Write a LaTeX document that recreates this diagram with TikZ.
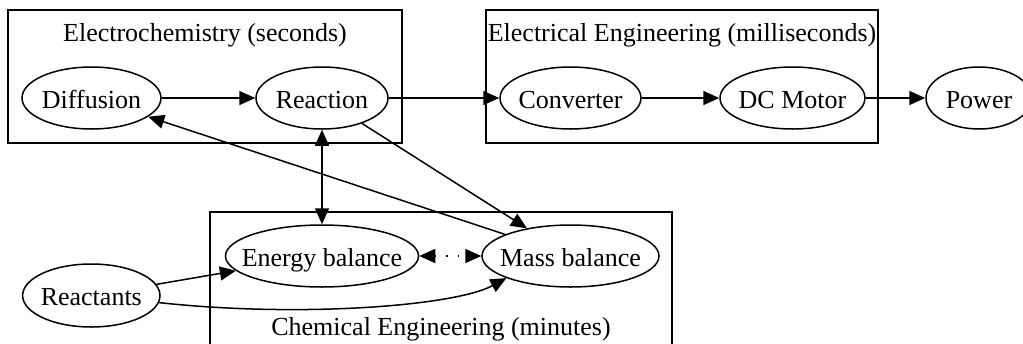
\documentclass[tikz,border=0pt]{standalone}
\usepackage{fontspec}
\setmainfont{Liberation Serif}
\usetikzlibrary{
  shapes.geometric,
  arrows.meta
}
\tikzset{
  proc/.style={draw,ellipse,line width=0.75pt,inner ysep=0pt,inner xsep=-30pt,
    minimum height=31pt,text height=10pt,text depth=0pt},
  link/.style={line width=0.75pt,-{Triangle[length=8pt,width=7pt]}},
  two way/.style={line width=0.75pt,{Triangle[length=8pt,width=7pt]}-{Triangle[length=8pt,width=7pt]}},
  cluster/.style={draw,line width=0.75pt},
  cluster label/.style={anchor=base,inner sep=0pt},
}

\begin{document}
\begin{tikzpicture}[
  x=0.5pt,y=0.5pt,
  font=\fontsize{13pt}{15pt}\selectfont,
]
\useasboundingbox (0,0) rectangle (1023,-343);

% clusters
\draw[cluster] (8,-10) rectangle (402,-143);
\node[cluster label] (echem-label) at (205,-41.7) {Electrochemistry (seconds)};
\draw[cluster] (486,-10) rectangle (878,-143);
\node[cluster label] (elec-label) at (682,-41.7) {Electrical Engineering (milliseconds)};
\draw[cluster] (210,-212) rectangle (672,-370);
\node[cluster label] (chem-label) at (441,-335) {Chemical Engineering (minutes)};

% processes
\node[proc,minimum width=69.5pt] (diffusion) at (91.5,-98) {Diffusion};
\node[proc,minimum width=66pt] (reaction) at (322,-98) {Reaction};
\node[proc,minimum width=70.5pt] (converter) at (570.5,-98) {Converter};
\node[proc,minimum width=72.5pt] (dc-motor) at (792.5,-98) {DC Motor};
\node[proc,minimum width=53pt] (power) at (979,-98) {Power};
\node[proc,minimum width=96.5pt] (energy) at (322,-256) {Energy balance};
\node[proc,minimum width=88.5pt] (mass) at (570.5,-256) {Mass balance};
\node[proc,minimum width=68.7pt,minimum height=31.5pt] (reactants) at (91.3,-295.5) {Reactants};

\draw[link] (diffusion) -- (reaction);
\draw[link] (reaction) -- (converter);
\draw[link] (converter) -- (dc-motor);
\draw[link] (dc-motor) -- (power);
\draw[two way] (reaction) -- (energy);
\draw[link] (reaction) -- (mass);
\draw[link] (mass) -- (diffusion);
\draw[two way,dash pattern=on 0.75pt off 5pt] (energy) -- (mass);
\draw[link] (reactants) -- (energy);
\draw[link] (reactants.-6) .. controls (300,-318) and (455,-306) .. (mass.199);
\end{tikzpicture}
\end{document}
